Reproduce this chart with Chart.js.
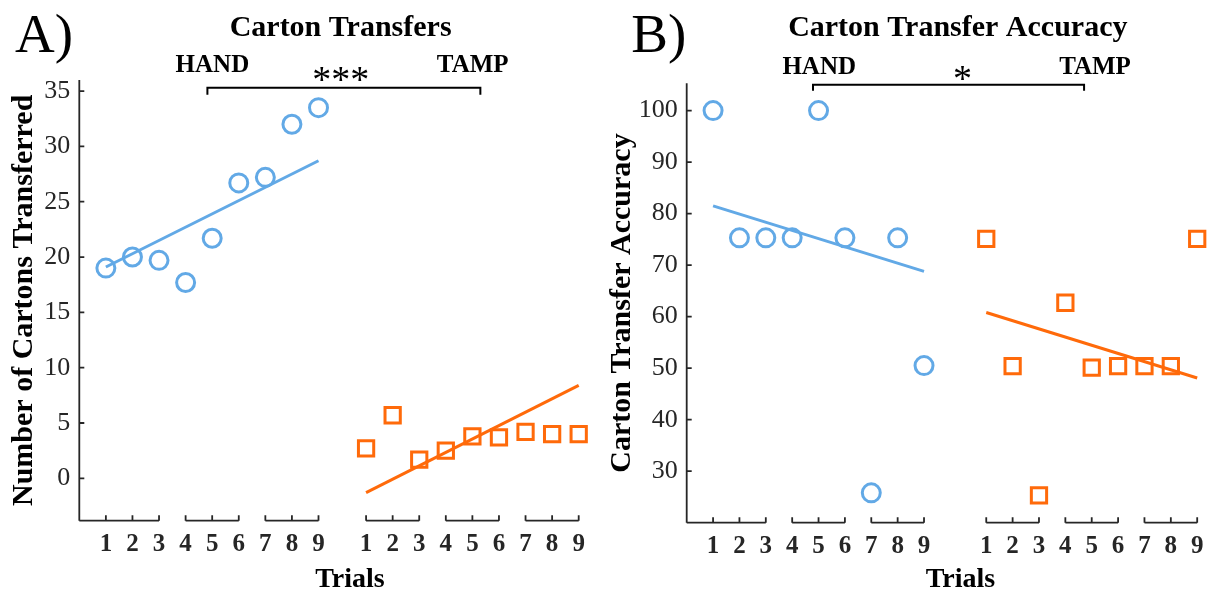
<!DOCTYPE html>
<html>
<head>
<meta charset="utf-8">
<title>Carton Transfers</title>
<script src="https://cdn.jsdelivr.net/npm/chart.js@4/dist/chart.umd.min.js"></script>
<style>
  body { margin: 0; background: #fff; }
  #wrap { position: relative; width: 1211px; height: 592px; }
  canvas { position: absolute; top: 0; }
  #chartA { left: 0; }
  #chartB { left: 600px; }
</style>
</head>
<body>
<div id="wrap">
  <canvas id="chartA" width="600" height="592"></canvas>
  <canvas id="chartB" width="611" height="592"></canvas>
</div>
<script>
// ================= DATA =================
const trials = [1, 2, 3, 4, 5, 6, 7, 8, 9];
const trialLabels = ['1', '2', '3', '4', '5', '6', '7', '8', '9'];

// Panel A - number of cartons transferred
const handCartons = [19.0, 20.0, 19.7, 17.7, 21.7, 26.7, 27.2, 32.0, 33.5];
const tampCartons = [2.7, 5.7, 1.7, 2.5, 3.8, 3.7, 4.2, 4.0, 4.0];
const fitTrials = [1, 9];
const handFitCartons = [19.1, 28.7];
const tampFitCartons = [-1.3, 8.4];
const yTicksCartons = [0, 5, 10, 15, 20, 25, 30, 35];

// Panel B - transfer accuracy
const handAccuracy = [100, 75.3, 75.3, 75.3, 100, 75.3, 25.8, 75.3, 50.5];
const tampAccuracy = [75.1, 50.4, 25.3, 62.7, 50.1, 50.4, 50.4, 50.4, 75.1];
const handFitAccuracy = [81.5, 68.8];
const tampFitAccuracy = [60.8, 48.1];
const yTicksAccuracy = [30, 40, 50, 60, 70, 80, 90, 100];

// ================= STYLE =================
const SERIF = "'Liberation Serif', 'Times New Roman', serif";
const BLUE = '#62a9e6';
const ORANGE = '#ff6a0a';
const AXIS = '#262626';

// ================= DECORATION PLUGIN =================
// Draws the MATLAB-like axis line, bracket style x axis, panel letter, title and significance bar
function drawCentered(ctx, text, cx, cy) {
    const m = ctx.measureText(text);
    ctx.fillText(text, cx, cy + (m.actualBoundingBoxAscent - m.actualBoundingBoxDescent) / 2);
}

const panelDecor = {
    id: 'panelDecor',
    afterDraw(chart, args, o) {
        const ctx = chart.ctx;
        const xs = chart.scales.x, ys = chart.scales.y;
        const area = chart.chartArea;
        ctx.save();

        // y axis line + inward ticks
        ctx.strokeStyle = AXIS;
        ctx.lineWidth = 1.8;
        ctx.beginPath();
        ctx.moveTo(area.left, area.top);
        ctx.lineTo(area.left, area.bottom);
        o.yTicks.forEach(v => {
            const py = ys.getPixelForValue(v);
            ctx.moveTo(area.left, py);
            ctx.lineTo(area.left + 5, py);
        });

        // x axis drawn as brackets of three trials
        const groups = [];
        [0, o.tampOffset].forEach(off => {
            for (let g = 0; g < 3; g++) {
                const ticks = trials.slice(g * 3, g * 3 + 3).map(t => t + off);
                const from = (off === 0 && g === 0) ? 0 : ticks[0];
                groups.push({ from, ticks });
            }
        });
        groups.forEach(g => {
            ctx.moveTo(xs.getPixelForValue(g.from), area.bottom);
            ctx.lineTo(xs.getPixelForValue(g.ticks[2]), area.bottom);
            g.ticks.forEach(t => {
                const px = xs.getPixelForValue(t);
                ctx.moveTo(px, area.bottom);
                ctx.lineTo(px, area.bottom - 5.5);
            });
        });
        ctx.stroke();

        // significance bracket
        const b = o.bracket;
        const bx1 = xs.getPixelForValue(b.x1), bx2 = xs.getPixelForValue(b.x2);
        const by = ys.getPixelForValue(b.y);
        ctx.strokeStyle = '#000';
        ctx.lineWidth = 2;
        ctx.beginPath();
        ctx.moveTo(bx1, by + b.drop);
        ctx.lineTo(bx1, by);
        ctx.lineTo(bx2, by);
        ctx.lineTo(bx2, by + b.drop);
        ctx.stroke();

        // texts
        ctx.fillStyle = '#000';
        ctx.textBaseline = 'alphabetic';
        ctx.textAlign = 'left';
        ctx.font = '55px ' + SERIF;
        ctx.fillText(o.letter, o.letterX, 52);

        ctx.textAlign = 'center';
        ctx.font = 'bold 30px ' + SERIF;
        ctx.fillText(o.title, o.titleX, 35.5);

        ctx.font = 'bold 25px ' + SERIF;
        ctx.fillText('HAND', o.handX, o.groupY);
        ctx.fillText('TAMP', o.tampX, o.groupY);

        ctx.font = '38px ' + SERIF;
        drawCentered(ctx, o.stars, o.starsX, o.starsY);

        ctx.font = 'bold 28px ' + SERIF;
        ctx.fillText('Trials', o.trialsX, 586.5);

        ctx.restore();
    }
};

// ================= CHART BUILDER =================
function makePanel(canvasId, cfg) {
    const xTicks = trials.concat(trials.map(t => t + cfg.tampOffset));
    const xMax = 9 + cfg.tampOffset;
    const pts = (vals, off) => vals.map((v, i) => ({ x: trials[i] + off, y: v }));
    const fit = (vals, off) => vals.map((v, i) => ({ x: fitTrials[i] + off, y: v }));

    const lineDs = (data, color) => ({
        data, showLine: true, borderColor: color, borderWidth: 3,
        pointRadius: 0, fill: false, clip: false
    });
    const markDs = (data, color, style, r) => ({
        data, showLine: false, borderColor: color, backgroundColor: 'rgba(0,0,0,0)',
        pointStyle: style, pointRadius: r, pointBorderWidth: 3, clip: false
    });

    return new Chart(document.getElementById(canvasId), {
        type: 'scatter',
        data: {
            datasets: [
                lineDs(fit(cfg.handFit, 0), BLUE),
                lineDs(fit(cfg.tampFit, cfg.tampOffset), ORANGE),
                markDs(pts(cfg.hand, 0), BLUE, 'circle', 9),
                markDs(pts(cfg.tamp, cfg.tampOffset), ORANGE, 'rect', 10.8)
            ]
        },
        options: {
            responsive: false,
            animation: false,
            layout: { padding: { top: cfg.area.top, right: cfg.width - cfg.area.right, bottom: 0, left: 0 } },
            plugins: {
                legend: { display: false },
                tooltip: { enabled: false },
                panelDecor: cfg.decor
            },
            scales: {
                x: {
                    type: 'linear', min: 0, max: xMax,
                    afterBuildTicks: s => { s.ticks = xTicks.map(v => ({ value: v })); },
                    ticks: {
                        callback: (v, i) => trialLabels[i % 9],
                        font: { family: SERIF, size: 25, weight: 'bold' },
                        color: AXIS, padding: 9, autoSkip: false, maxRotation: 0
                    },
                    grid: { display: false, drawTicks: false },
                    border: { display: false },
                    afterFit: s => { s.height = 592 - cfg.area.bottom; s.paddingLeft = 0; s.paddingRight = 0; }
                },
                y: {
                    type: 'linear', min: cfg.yMin, max: cfg.yMax,
                    afterBuildTicks: s => { s.ticks = cfg.yTicks.map(v => ({ value: v })); },
                    ticks: { font: { family: SERIF, size: 26 }, color: AXIS, padding: 9 },
                    grid: { display: false, drawTicks: false },
                    border: { display: false },
                    title: {
                        display: true, text: cfg.yTitle, color: '#000',
                        font: { family: SERIF, size: 30, weight: 'bold' },
                        padding: { top: cfg.yTitlePad, bottom: 0 }
                    },
                    afterFit: s => { s.width = cfg.area.left; s.paddingTop = 0; s.paddingBottom = 0; }
                }
            }
        },
        plugins: [panelDecor]
    });
}

// ================= INITIALIZATION =================
makePanel('chartA', {
    width: 600,
    area: { left: 79.3, top: 80, right: 578.7, bottom: 520.7 },
    tampOffset: 9.79, yMin: -3.83, yMax: 36, yTicks: yTicksCartons,
    hand: handCartons, tamp: tampCartons, handFit: handFitCartons, tampFit: tampFitCartons,
    yTitle: 'Number of Cartons Transferred', yTitlePad: 6,
    decor: {
        yTicks: yTicksCartons, tampOffset: 9.79,
        bracket: { x1: 4.82, x2: 15.09, y: 35.3, drop: 7 },
        letter: 'A)', letterX: 15, title: 'Carton Transfers', titleX: 340.6,
        handX: 212.4, tampX: 472.7, groupY: 71.7,
        stars: '***', starsX: 340.7, starsY: 74, trialsX: 350
    }
});

makePanel('chartB', {
    width: 611,
    area: { left: 86.7, top: 83.3, right: 601, bottom: 522.7 },
    tampOffset: 10.36, yMin: 20, yMax: 105.3, yTicks: yTicksAccuracy,
    hand: handAccuracy, tamp: tampAccuracy, handFit: handFitAccuracy, tampFit: tampFitAccuracy,
    yTitle: 'Carton Transfer Accuracy', yTitlePad: 4,
    decor: {
        yTicks: yTicksAccuracy, tampOffset: 10.36,
        bracket: { x1: 4.79, x2: 15.07, y: 105.0, drop: 6 },
        letter: 'B)', letterX: 31.2, title: 'Carton Transfer Accuracy', titleX: 357.8,
        handX: 219.2, tampX: 495, groupY: 74,
        stars: '*', starsX: 362.4, starsY: 73, trialsX: 360.5
    }
});
</script>
</body>
</html>
